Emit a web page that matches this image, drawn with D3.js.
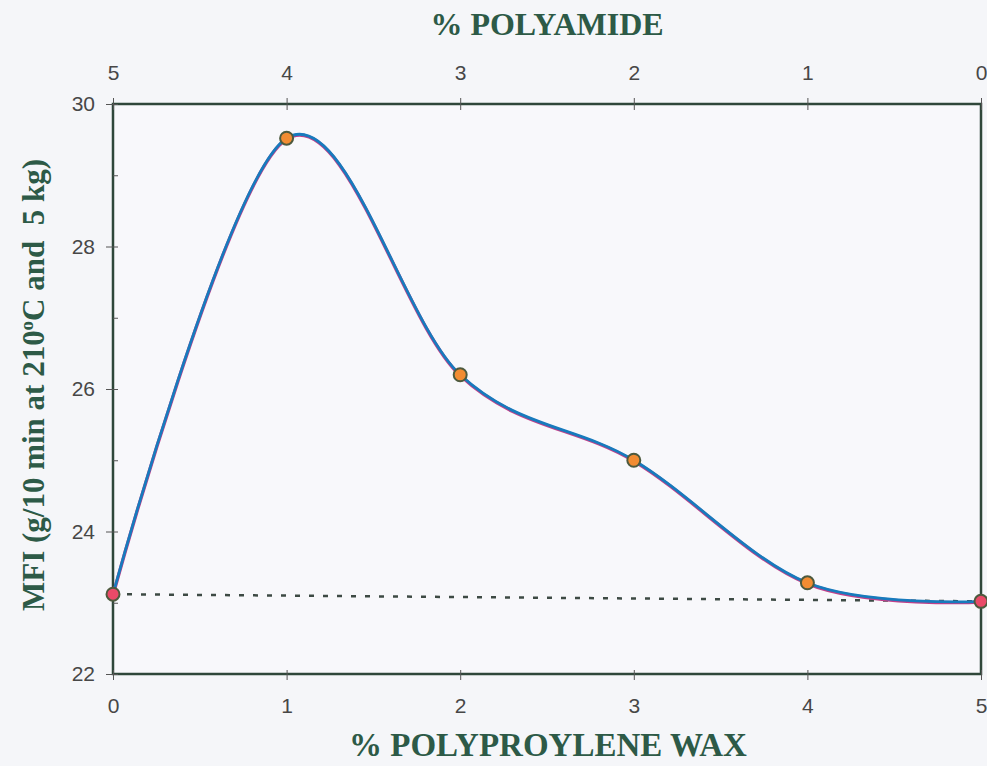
<!DOCTYPE html>
<html>
<head>
<meta charset="utf-8">
<script src="https://cdn.jsdelivr.net/npm/d3@7"></script>
<style>
  html, body { margin: 0; padding: 0; background: #f5f6f9; }
  svg { display: block; }
</style>
</head>
<body>
<svg id="chart" width="987" height="766"></svg>
<script>
// Wax content (bottom axis) and the matching polyamide content (top axis)
const waxPct = [0, 1, 2, 3, 4, 5];
const polyamidePct = [5, 4, 3, 2, 1, 0];
// Melt flow index readings
const mfi = [23.12, 29.52, 26.2, 25.0, 23.28, 23.02];
// Reference baseline joining the two pure-component blends
const baseX = [0, 5];
const baseY = [23.12, 23.02];
const yMajorTicks = [22, 24, 26, 28, 30];
const yMinorTicks = [23, 25, 27, 29];

const svg = d3.select("#chart");
const margin = { left: 113, right: 6, top: 104, bottom: 92 };
const W = 987, H = 766;

const x = d3.scaleLinear().domain([0, 5]).range([margin.left, W - margin.right]);
const xTop = d3.scaleLinear().domain([5, 0]).range([margin.left, W - margin.right]);
const y = d3.scaleLinear().domain([22, 30]).range([H - margin.bottom, margin.top]);

const axisColor = "#2f473a";
const labelColor = "#474747";
const titleColor = "#2d5a47";
const tickFont = "Liberation Sans, Arial, sans-serif";

// Plot frame
svg.append("rect")
  .attr("x", x(0)).attr("y", y(30))
  .attr("width", x(5) - x(0)).attr("height", y(22) - y(30))
  .attr("fill", "#f8f8fb")
  .attr("stroke", axisColor).attr("stroke-width", 2.5);

function styleAxis(g) {
  g.attr("font-size", null).attr("font-family", null);
  g.select(".domain").remove();
  g.selectAll(".tick line").attr("stroke", "#555").attr("stroke-width", 1);
  g.selectAll(".tick text")
    .attr("fill", labelColor)
    .style("font-family", tickFont)
    .style("font-size", "21px");
}

// Bottom axis: ticks crossing the frame line
svg.append("g")
  .attr("transform", `translate(0,${y(22)})`)
  .call(d3.axisBottom(x).tickValues(waxPct).tickFormat(d3.format("d")).tickSizeInner(6).tickPadding(18))
  .call(styleAxis)
  .call(g => g.selectAll(".tick line").attr("y1", -4));

// Top axis
svg.append("g")
  .attr("transform", `translate(0,${y(30)})`)
  .call(d3.axisTop(xTop).tickValues(polyamidePct).tickFormat(d3.format("d")).tickSizeInner(6).tickPadding(18))
  .call(styleAxis)
  .call(g => g.selectAll(".tick line").attr("y1", 6));

// Left axis, labelled major ticks
svg.append("g")
  .attr("transform", `translate(${x(0)},0)`)
  .call(d3.axisLeft(y).tickValues(yMajorTicks).tickFormat(d3.format("d")).tickSizeInner(7).tickPadding(11))
  .call(styleAxis)
  .call(g => g.selectAll(".tick line").attr("x1", 5));

// Left axis, minor ticks pointing inward
svg.append("g")
  .attr("transform", `translate(${x(0)},0)`)
  .call(d3.axisRight(y).tickValues(yMinorTicks).tickFormat("").tickSizeInner(5))
  .call(styleAxis);

// Dashed baseline
svg.append("line")
  .attr("x1", x(baseX[0])).attr("y1", y(baseY[0]))
  .attr("x2", x(baseX[1])).attr("y2", y(baseY[1]))
  .attr("stroke", "#3d4a44").attr("stroke-width", 2.5)
  .attr("stroke-dasharray", "5,9");

// Smoothed MFI curve
const pts = waxPct.map((d, i) => [d, mfi[i]]);
const line = d3.line()
  .x(d => x(d[0])).y(d => y(d[1]))
  .curve(d3.curveCardinal.tension(0));

svg.append("path")
  .datum(pts)
  .attr("d", line)
  .attr("fill", "none")
  .attr("stroke", "#c0408a").attr("stroke-width", 3.4)
  .attr("transform", "translate(0,0.8)");
svg.append("path")
  .datum(pts)
  .attr("d", line)
  .attr("fill", "none")
  .attr("stroke", "#177bbd").attr("stroke-width", 2.8);

// Data markers
svg.selectAll("circle.pt")
  .data(pts)
  .enter().append("circle")
  .attr("class", "pt")
  .attr("cx", d => x(d[0])).attr("cy", d => y(d[1]))
  .attr("r", 6.5)
  .attr("fill", (d, i) => (i === 0 || i === pts.length - 1) ? "#ea4a68" : "#f28c32")
  .attr("stroke", "#4d5a3e").attr("stroke-width", 2);

// Axis titles
const titleFont = "Liberation Serif, 'Times New Roman', serif";
svg.append("text")
  .attr("x", 547).attr("y", 35)
  .attr("text-anchor", "middle")
  .attr("fill", titleColor)
  .style("font-family", titleFont).style("font-weight", "bold").style("font-size", "32px")
  .text("% POLYAMIDE");

svg.append("text")
  .attr("x", 548).attr("y", 756)
  .attr("text-anchor", "middle")
  .attr("fill", titleColor)
  .style("font-family", titleFont).style("font-weight", "bold").style("font-size", "33px")
  .text("% POLYPROYLENE WAX");

const yTitle = svg.append("text")
  .attr("transform", "translate(44,385) rotate(-90)")
  .attr("text-anchor", "middle")
  .attr("fill", titleColor)
  .style("font-family", titleFont).style("font-weight", "bold").style("font-size", "31px");
yTitle.append("tspan").text("MFI (g/10 min at 210");
yTitle.append("tspan").attr("dy", -11).style("font-size", "19px").text("o");
yTitle.append("tspan").attr("dy", 11).text("C and\u00a0 5 kg)");
</script>
</body>
</html>
